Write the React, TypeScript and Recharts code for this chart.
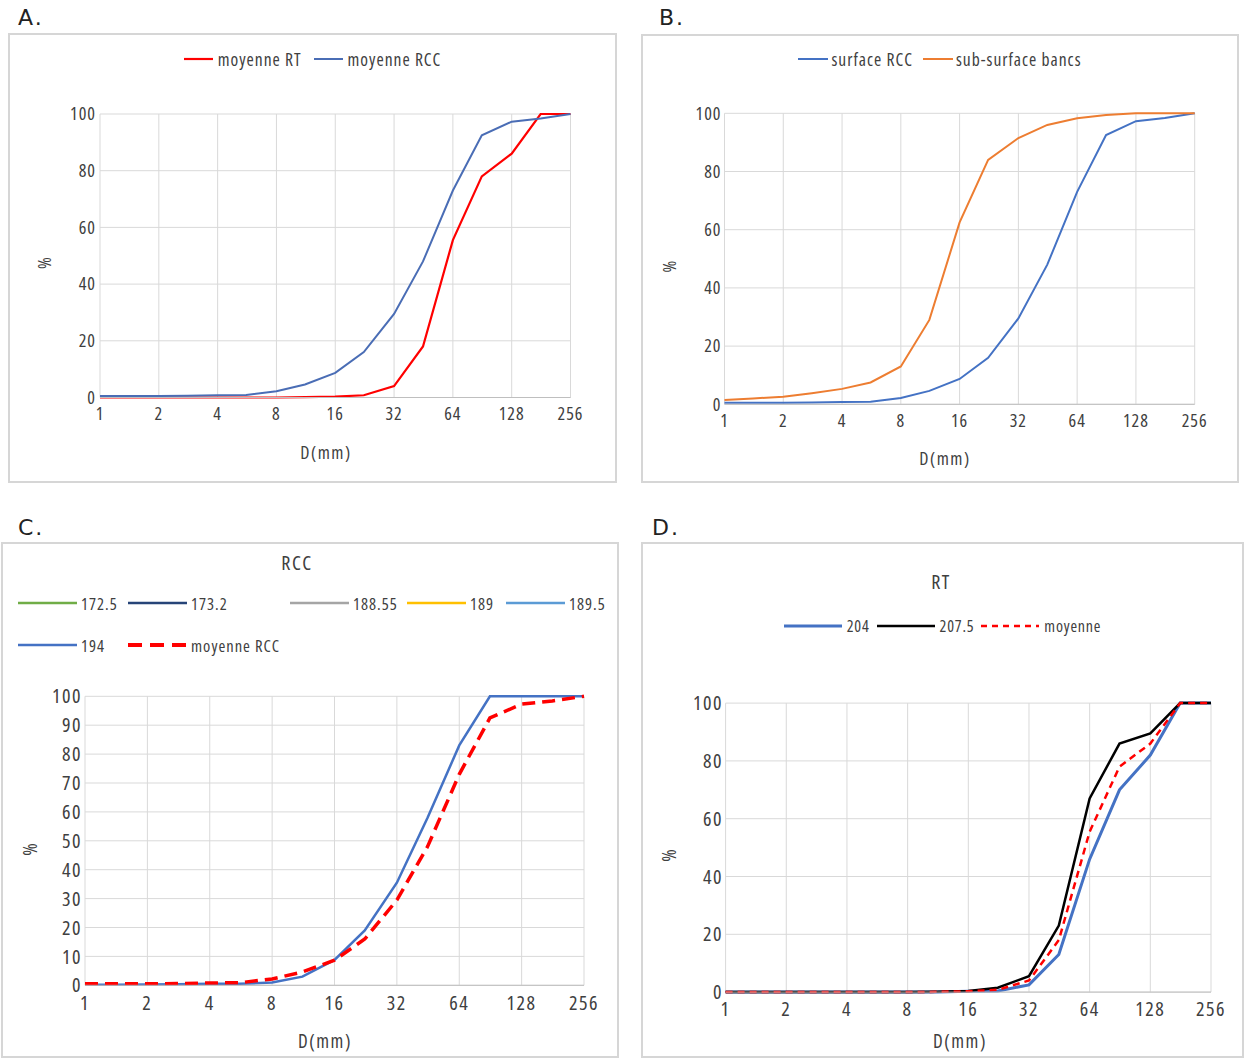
import React from "react";
import { LineChart, Line, XAxis, YAxis, CartesianGrid, Legend, Label } from "recharts";

// sieve sizes D (mm), half-phi steps
const sizes = [1, 1.4, 2, 2.8, 4, 5.6, 8, 11.2, 16, 22.4, 32, 45, 64, 90, 128, 180, 256];
const xTicks = [1, 2, 4, 8, 16, 32, 64, 128, 256];
const yTicks20 = [0, 20, 40, 60, 80, 100];
const yTicks10 = [0, 10, 20, 30, 40, 50, 60, 70, 80, 90, 100];

// cumulative % finer than D
const moyenneRCC = [0.5, 0.5, 0.5, 0.6, 0.8, 0.9, 2.2, 4.6, 8.7, 16, 29.5, 48, 73, 92.5, 97.3, 98.4, 100];
const moyenneRT = [0, 0, 0, 0, 0, 0, 0, 0.1, 0.3, 0.8, 4, 18, 55.5, 78, 86, 100, 100];
const subSurfaceBancs = [1.5, 2, 2.6, 3.8, 5.3, 7.5, 13, 29, 62.5, 84, 91.5, 96, 98.3, 99.4, 100, 100, 100];
const rcc194 = [0.2, 0.2, 0.3, 0.4, 0.5, 0.5, 1, 3, 8.8, 19, 35.5, 58, 83, 100, 100, 100, 100];
const rt204 = [0, 0, 0, 0, 0, 0, 0, 0, 0.3, 0.4, 2.5, 13, 46, 70, 82, 100, 100];
const rt2075 = [0, 0, 0, 0, 0, 0, 0, 0.1, 0.4, 1.5, 5.5, 23, 67, 86, 89.5, 100, 100];
// stations listed in the RCC legend but not visible on the plot
const notShown = [null, null, null, null, null, null, null, null, null, null, null, null, null, null, null, null, null];

const FONT = "'Open Sans', 'DejaVu Sans', sans-serif";
const STRETCH = "condensed";
const INK = "#404040";
const GRID = "#d9d9d9";

type Series = {
  key: string;
  name: string;
  values: (number | null)[];
  color: string;
  width: number;
  dash?: string;
  iconDash?: string;
  iconWidth?: number;
};

type PanelProps = {
  letter: string;
  letterPos: [number, number];
  box: [number, number, number, number];
  plot: [number, number, number, number];
  series: Series[];
  yTicks: number[];
  font: number;
  tickSpacing: number;
  xTickMargin: number;
  yTickMargin: number;
  legendY: number;
  legendFont: number;
  legendSpacing: number;
  icon: number;
  iconGap: number;
  itemGap: number;
  slots?: [number, number][];
  title?: string;
  titleX?: number;
  titleY?: number;
  yLabelX: number;
  yLabelY: number;
  xLabelX: number;
  xLabelY: number;
  labelFont: number;
};

function LegendBox({ p }: { p: PanelProps }) {
  const items = p.series.map((s) => (
    <div key={s.key} style={{ display: "flex", alignItems: "center", gap: p.iconGap }}>
      <svg width={p.icon} height={10}>
        <line x1={0} y1={5} x2={p.icon} y2={5} stroke={s.color} strokeWidth={s.iconWidth ?? s.width} strokeDasharray={s.iconDash} />
      </svg>
      <span style={{ fontSize: p.legendFont, letterSpacing: p.legendSpacing, color: INK, whiteSpace: "nowrap" }}>{s.name}</span>
    </div>
  ));
  if (p.slots) {
    return (
      <div style={{ position: "relative", height: 60, fontFamily: FONT, fontStretch: STRETCH }}>
        {items.map((it, i) => (
          <div key={i} style={{ position: "absolute", left: p.slots![i][0], top: p.slots![i][1] - 10, height: 20, display: "flex" }}>
            {it}
          </div>
        ))}
      </div>
    );
  }
  return (
    <div style={{ display: "flex", justifyContent: "center", alignItems: "center", height: 20, gap: p.itemGap, fontFamily: FONT, fontStretch: STRETCH }}>
      {items}
    </div>
  );
}

function Panel(p: PanelProps) {
  const [bx0, by0, bx1, by1] = p.box;
  const [pl, pt, pr, pb] = p.plot;
  const w = bx1 - bx0;
  const h = by1 - by0;
  const data = sizes.map((d, i) => {
    const row: Record<string, number | null> = { d };
    p.series.forEach((s) => (row[s.key] = s.values[i]));
    return row;
  });
  const tick = { fontSize: p.font, fill: INK, letterSpacing: p.tickSpacing };
  return (
    <>
      <div style={{ position: "absolute", left: p.letterPos[0], top: p.letterPos[1], fontFamily: "'DejaVu Sans', sans-serif", fontSize: 22, lineHeight: "22px", letterSpacing: 2, color: "#222" }}>
        {p.letter}
      </div>
      <div style={{ position: "absolute", left: bx0, top: by0, width: w, height: h, boxSizing: "border-box", border: "2px solid #d6d6d6" }} />
      <div style={{ position: "absolute", left: bx0, top: by0, width: w, height: h, fontFamily: FONT, fontStretch: STRETCH }}>
        <LineChart width={w} height={h} data={data} margin={{ top: pt - by0, right: bx1 - pr, bottom: 0, left: 0 }}>
          <CartesianGrid stroke={GRID} strokeWidth={1} />
          <XAxis
            dataKey="d"
            type="number"
            scale="log"
            domain={[1, 256]}
            ticks={xTicks}
            interval={0}
            height={by1 - pb}
            tickSize={0}
            tickMargin={p.xTickMargin}
            tickLine={false}
            axisLine={{ stroke: "#bfbfbf" }}
            tick={tick}
          >
            <Label
              content={() => (
                <text x={p.xLabelX - bx0} y={p.xLabelY - by0} textAnchor="middle" dominantBaseline="central" fontSize={p.labelFont} letterSpacing={1.5} fill={INK}>
                  D(mm)
                </text>
              )}
            />
          </XAxis>
          <YAxis
            type="number"
            domain={[0, 100]}
            ticks={p.yTicks}
            interval={0}
            width={pl - bx0}
            tickSize={0}
            tickMargin={p.yTickMargin}
            tickLine={false}
            axisLine={false}
            tick={tick}
          >
            <Label
              content={() => {
                const x = p.yLabelX - bx0;
                const y = p.yLabelY - by0;
                return (
                  <text x={x} y={y} transform={`rotate(-90 ${x} ${y})`} textAnchor="middle" dominantBaseline="central" fontSize={p.labelFont} fill={INK}>
                    %
                  </text>
                );
              }}
            />
          </YAxis>
          <Legend
            layout="horizontal"
            verticalAlign="middle"
            align="center"
            wrapperStyle={{ top: p.legendY - by0 - 10, left: 0, width: w }}
            content={() => <LegendBox p={p} />}
          />
          {p.series.map((s) => (
            <Line
              key={s.key}
              type="linear"
              dataKey={s.key}
              name={s.name}
              stroke={s.color}
              strokeWidth={s.width}
              strokeDasharray={s.dash}
              dot={false}
              activeDot={false}
              isAnimationActive={false}
            />
          ))}
        </LineChart>
      </div>
      {p.title && (
        <div style={{ position: "absolute", left: (p.titleX ?? 0) - 50, width: 100, top: (p.titleY ?? 0) - 12, height: 24, lineHeight: "24px", textAlign: "center", fontFamily: FONT, fontStretch: STRETCH, fontSize: 20, letterSpacing: 1.5, color: INK }}>
          {p.title}
        </div>
      )}
    </>
  );
}

const BLUE = "#4472c4";
const RED = "#ff0000";

const seriesA: Series[] = [
  { key: "rt", name: "moyenne RT", values: moyenneRT, color: RED, width: 2.2 },
  { key: "rcc", name: "moyenne RCC", values: moyenneRCC, color: "#4a6db5", width: 2 },
];
const seriesB: Series[] = [
  { key: "surf", name: "surface RCC", values: moyenneRCC, color: BLUE, width: 2 },
  { key: "sub", name: "sub-surface bancs", values: subSurfaceBancs, color: "#ed7d31", width: 2 },
];
const seriesC: Series[] = [
  { key: "s1725", name: "172.5", values: notShown, color: "#70ad47", width: 2.5 },
  { key: "s1732", name: "173.2", values: notShown, color: "#264478", width: 2.5 },
  { key: "s18855", name: "188.55", values: notShown, color: "#a5a5a5", width: 2.5 },
  { key: "s189", name: "189", values: notShown, color: "#ffc000", width: 2.5 },
  { key: "s1895", name: "189.5", values: notShown, color: "#5b9bd5", width: 2.5 },
  { key: "s194", name: "194", values: rcc194, color: BLUE, width: 2.5 },
  { key: "moy", name: "moyenne RCC", values: moyenneRCC, color: RED, width: 3.5, dash: "13 7", iconDash: "14 8", iconWidth: 4 },
];
const seriesD: Series[] = [
  { key: "s204", name: "204", values: rt204, color: BLUE, width: 3 },
  { key: "s2075", name: "207.5", values: rt2075, color: "#000000", width: 2.5 },
  { key: "moy", name: "moyenne", values: moyenneRT, color: RED, width: 2.5, dash: "7 5", iconDash: "6 5" },
];

export default function App() {
  return (
    <div style={{ position: "absolute", left: 0, top: 0, width: 1247, height: 1059, background: "#fff", overflow: "hidden" }}>
      <Panel
        letter="A."
        letterPos={[18, 7]}
        box={[8, 33, 617, 483]}
        plot={[100, 114, 570.5, 397.5]}
        series={seriesA}
        yTicks={yTicks20}
        font={18}
        tickSpacing={1}
        xTickMargin={9.5}
        yTickMargin={4}
        legendY={59}
        legendFont={17.5}
        legendSpacing={1}
        icon={29}
        iconGap={5}
        itemGap={12}
        yLabelX={43.5}
        yLabelY={263}
        xLabelX={326}
        xLabelY={451.5}
        labelFont={18}
      />
      <Panel
        letter="B."
        letterPos={[659, 7]}
        box={[641, 34, 1239, 483]}
        plot={[724.5, 113.3, 1194.7, 404.3]}
        series={seriesB}
        yTicks={yTicks20}
        font={18}
        tickSpacing={1}
        xTickMargin={10}
        yTickMargin={3}
        legendY={59}
        legendFont={17.5}
        legendSpacing={1}
        icon={30}
        iconGap={3}
        itemGap={10}
        yLabelX={669}
        yLabelY={266.5}
        xLabelX={945}
        xLabelY={458}
        labelFont={18}
      />
      <Panel
        letter="C."
        letterPos={[18, 517]}
        box={[1, 542, 619, 1058]}
        plot={[85, 696.3, 584, 985.3]}
        series={seriesC}
        yTicks={yTicks10}
        font={20}
        tickSpacing={1.5}
        xTickMargin={10.5}
        yTickMargin={3}
        legendY={600}
        legendFont={16.5}
        legendSpacing={1}
        icon={59}
        iconGap={4}
        itemGap={10}
        slots={[
          [17, 13],
          [127, 13],
          [289, 13],
          [406, 13],
          [505, 13],
          [17, 55],
          [127, 55],
        ]}
        title="RCC"
        titleX={297}
        titleY={562.5}
        yLabelX={29.6}
        yLabelY={849.5}
        xLabelX={325}
        xLabelY={1040.6}
        labelFont={19}
      />
      <Panel
        letter="D."
        letterPos={[652, 517]}
        box={[641, 541.5, 1244, 1058]}
        plot={[725.6, 702.6, 1211, 991.6]}
        series={seriesD}
        yTicks={yTicks20}
        font={20}
        tickSpacing={1.5}
        xTickMargin={10}
        yTickMargin={2.5}
        legendY={625.6}
        legendFont={16}
        legendSpacing={0.8}
        icon={58}
        iconGap={5}
        itemGap={7}
        title="RT"
        titleX={941}
        titleY={582}
        yLabelX={669}
        yLabelY={855}
        xLabelX={960}
        xLabelY={1040.6}
        labelFont={19}
      />
    </div>
  );
}
